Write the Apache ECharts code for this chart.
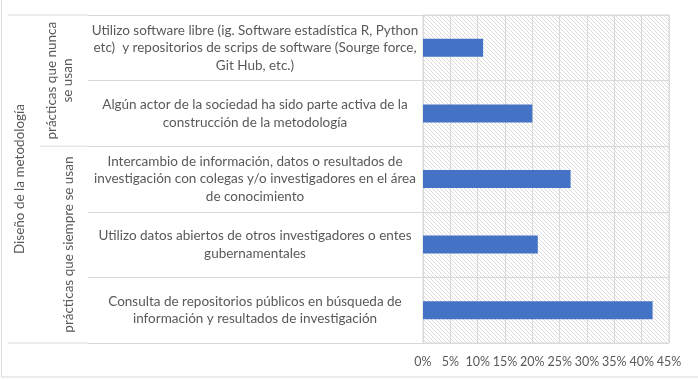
<!DOCTYPE html>
<html>
<head>
<meta charset="utf-8">
<script src="https://cdn.jsdelivr.net/npm/echarts@6/dist/echarts.min.js"></script>
<style>
  html, body { margin: 0; padding: 0; background: #fff; }
  #chart { width: 698px; height: 380px; }
</style>
</head>
<body>
<div id="chart"></div>
<script>
// Data
const categories = [
  'Utilizo software libre (ig. Software estadística R, Python\netc)  y repositorios de scrips de software (Sourge force,\nGit Hub, etc.)',
  'Algún actor de la sociedad ha sido parte activa de la\nconstrucción de la metodología',
  'Intercambio de información, datos o resultados de\ninvestigación con colegas y/o investigadores en el área\nde conocimiento',
  'Utilizo datos abiertos de otros investigadores o entes\ngubernamentales',
  'Consulta de repositorios públicos en búsqueda de\ninformación y resultados de investigación'
]
const values = [11, 20, 27, 21, 42]
const groups = ['prácticas que nunca\nse usan', 'prácticas que siempre se usan']
const groupSizes = [2, 3]
const outerLabel = 'Diseño de la metodología'

const FONT = 'Lato'
const TEXT = '#595959'
const LINE = '#d9d9d9'

// hatched plot background
const pat = document.createElement('canvas')
pat.width = 4
pat.height = 4
const pc = pat.getContext('2d')
pc.fillStyle = '#fff'
pc.fillRect(0, 0, 4, 4)
pc.strokeStyle = '#dcdcdc'
pc.lineWidth = 1
pc.beginPath()
pc.moveTo(-1, -1); pc.lineTo(5, 5)
pc.moveTo(3, -1); pc.lineTo(5, 1)
pc.moveTo(-1, 3); pc.lineTo(1, 5)
pc.stroke()

const chart = echarts.init(document.getElementById('chart'))

chart.setOption({
  animation: false,
  grid: {
    show: true,
    left: 423,
    right: 29,
    top: 15,
    bottom: 37,
    borderColor: LINE,
    borderWidth: 1,
    backgroundColor: { image: pat, repeat: 'repeat' },
  },
  xAxis: {
    type: 'value',
    min: 0,
    max: 45,
    interval: 5,
    axisLine: { show: false },
    axisTick: { show: false },
    axisLabel: {
      formatter: '{value}%',
      color: TEXT,
      fontFamily: FONT,
      fontSize: 12.5,
      margin: 12,
    },
    splitLine: { lineStyle: { color: LINE } },
  },
  yAxis: {
    type: 'category',
    inverse: true,
    data: categories,
    axisLine: { show: true, lineStyle: { color: LINE } },
    axisTick: { show: true, length: 335, lineStyle: { color: LINE } },
    axisLabel: {
      align: 'center',
      margin: 168,
      color: TEXT,
      fontFamily: FONT,
      fontSize: 13.5,
      lineHeight: 17.5,
    },
    splitLine: { show: true, lineStyle: { color: LINE } },
  },
  series: [{
    type: 'bar',
    data: values,
    barWidth: 18,
    itemStyle: { color: '#4472c4' },
  }],
})

// category table lines and group labels, placed from the axis scale
const c0 = chart.convertToPixel({ yAxisIndex: 0 }, 0)
const c1 = chart.convertToPixel({ yAxisIndex: 0 }, 1)
const band = c1 - c0
const yTop = c0 - band / 2
const yBottom = yTop + band * categories.length
const yDivider = yTop + band * groupSizes[0]

const textStyle = { fill: TEXT, font: '13.5px ' + FONT, textAlign: 'center', textVerticalAlign: 'middle', lineHeight: 16 }

chart.setOption({
  graphic: [
    { type: 'rect', shape: { x: 1.5, y: -5, width: 710, height: 382 }, style: { fill: null, stroke: LINE } },
    { type: 'line', shape: { x1: 8, y1: yTop, x2: 88, y2: yTop }, style: { stroke: LINE } },
    { type: 'line', shape: { x1: 8, y1: yBottom, x2: 88, y2: yBottom }, style: { stroke: LINE } },
    { type: 'line', shape: { x1: 40, y1: yDivider, x2: 88, y2: yDivider }, style: { stroke: LINE } },
    { type: 'text', x: 60, y: (yTop + yDivider) / 2, rotation: Math.PI / 2, style: Object.assign({ text: groups[0] }, textStyle) },
    { type: 'text', x: 69, y: (yDivider + yBottom) / 2, rotation: Math.PI / 2, style: Object.assign({ text: groups[1] }, textStyle) },
    { type: 'text', x: 20, y: (yTop + yBottom) / 2, rotation: Math.PI / 2, style: Object.assign({ text: outerLabel }, textStyle) },
  ],
})
</script>
</body>
</html>
